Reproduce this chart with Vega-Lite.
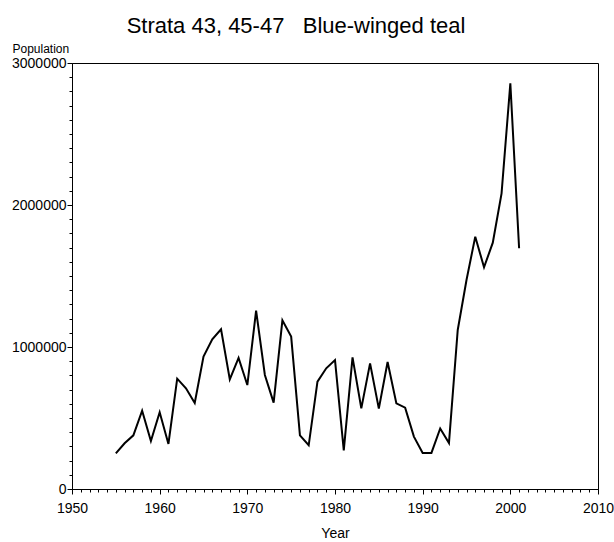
{
  "$schema": "https://vega.github.io/schema/vega-lite/v6.json",
  "autosize": {"type": "none"},
  "padding": {"left": 72, "top": 63, "right": 16, "bottom": 53},
  "width": 526,
  "height": 426,
  "background": "white",
  "title": {
    "text": "Strata 43, 45-47\u00a0\u00a0\u00a0Blue-winged teal",
    "font": "Liberation Sans",
    "fontSize": 22,
    "fontWeight": "normal",
    "color": "black",
    "anchor": "middle",
    "dx": -39,
    "baseline": "alphabetic",
    "offset": -13
  },
  "config": {
    "view": {"stroke": "black", "strokeWidth": 1},
    "axis": {
      "labelFont": "Liberation Sans",
      "titleFont": "Liberation Sans",
      "labelColor": "black",
      "titleColor": "black",
      "domainColor": "black",
      "tickColor": "black",
      "grid": false,
      "titleFontWeight": "normal"
    }
  },
  "data": {
    "values": [
      {"year": 1955, "population": 251000},
      {"year": 1956, "population": 322000},
      {"year": 1957, "population": 378000},
      {"year": 1958, "population": 551000},
      {"year": 1959, "population": 338000},
      {"year": 1960, "population": 540000},
      {"year": 1961, "population": 317000},
      {"year": 1962, "population": 777000},
      {"year": 1963, "population": 709000},
      {"year": 1964, "population": 606000},
      {"year": 1965, "population": 932000},
      {"year": 1966, "population": 1054000},
      {"year": 1967, "population": 1125000},
      {"year": 1968, "population": 772000},
      {"year": 1969, "population": 923000},
      {"year": 1970, "population": 732000},
      {"year": 1971, "population": 1256000},
      {"year": 1972, "population": 803000},
      {"year": 1973, "population": 608000},
      {"year": 1974, "population": 1188000},
      {"year": 1975, "population": 1073000},
      {"year": 1976, "population": 378000},
      {"year": 1977, "population": 308000},
      {"year": 1978, "population": 756000},
      {"year": 1979, "population": 850000},
      {"year": 1980, "population": 908000},
      {"year": 1981, "population": 272000},
      {"year": 1982, "population": 927000},
      {"year": 1983, "population": 568000},
      {"year": 1984, "population": 885000},
      {"year": 1985, "population": 566000},
      {"year": 1986, "population": 894000},
      {"year": 1987, "population": 603000},
      {"year": 1988, "population": 573000},
      {"year": 1989, "population": 369000},
      {"year": 1990, "population": 254000},
      {"year": 1991, "population": 254000},
      {"year": 1992, "population": 426000},
      {"year": 1993, "population": 323000},
      {"year": 1994, "population": 1120000},
      {"year": 1995, "population": 1472000},
      {"year": 1996, "population": 1777000},
      {"year": 1997, "population": 1561000},
      {"year": 1998, "population": 1735000},
      {"year": 1999, "population": 2082000},
      {"year": 2000, "population": 2857000},
      {"year": 2001, "population": 1695000}
    ]
  },
  "resolve": {"axis": {"x": "independent", "y": "independent"}},
  "layer": [
    {
      "mark": {"type": "line", "strokeOpacity": 0},
      "encoding": {
        "x": {
          "field": "year", "type": "quantitative",
          "scale": {"domain": [1950, 2010], "nice": false, "zero": false},
          "axis": {
            "orient": "bottom", "title": null, "labels": false, "domain": false,
            "tickSize": 3, "tickWidth": 1,
            "values": [1950,1951,1952,1953,1954,1955,1956,1957,1958,1959,1960,1961,1962,1963,1964,1965,1966,1967,1968,1969,1970,1971,1972,1973,1974,1975,1976,1977,1978,1979,1980,1981,1982,1983,1984,1985,1986,1987,1988,1989,1990,1991,1992,1993,1994,1995,1996,1997,1998,1999,2000,2001,2002,2003,2004,2005,2006,2007,2008,2009,2010]
          }
        },
        "y": {
          "field": "population", "type": "quantitative",
          "scale": {"domain": [0, 3000000], "nice": false},
          "axis": {
            "orient": "left", "title": null, "labels": false, "domain": false,
            "tickSize": 3, "tickWidth": 1,
            "values": [0,100000,200000,300000,400000,500000,600000,700000,800000,900000,1000000,1100000,1200000,1300000,1400000,1500000,1600000,1700000,1800000,1900000,2000000,2100000,2200000,2300000,2400000,2500000,2600000,2700000,2800000,2900000,3000000]
          }
        }
      }
    },
    {
      "mark": {"type": "line", "color": "black", "strokeWidth": 2},
      "encoding": {
        "x": {
          "field": "year", "type": "quantitative",
          "scale": {"domain": [1950, 2010], "nice": false, "zero": false},
          "axis": {
            "orient": "bottom", "title": "Year",
            "values": [1950, 1960, 1970, 1980, 1990, 2000, 2010],
            "format": "d",
            "labelFontSize": 14, "tickSize": 5, "tickWidth": 1, "labelPadding": 7,
            "labelFlush": false, "labelOverlap": false,
            "titleFontSize": 14, "titleBaseline": "alphabetic", "titleY": 48
          }
        },
        "y": {
          "field": "population", "type": "quantitative",
          "scale": {"domain": [0, 3000000], "nice": false},
          "axis": {
            "orient": "left", "title": "Population",
            "values": [0, 1000000, 2000000, 3000000],
            "format": "d",
            "labelFontSize": 14, "tickSize": 5, "tickWidth": 1, "labelPadding": 1,
            "labelFlush": false, "labelOverlap": false,
            "titleFontSize": 12, "titleAngle": 0, "titleAlign": "left",
            "titleBaseline": "alphabetic", "titleX": -60, "titleY": -11
          }
        }
      }
    }
  ]
}
